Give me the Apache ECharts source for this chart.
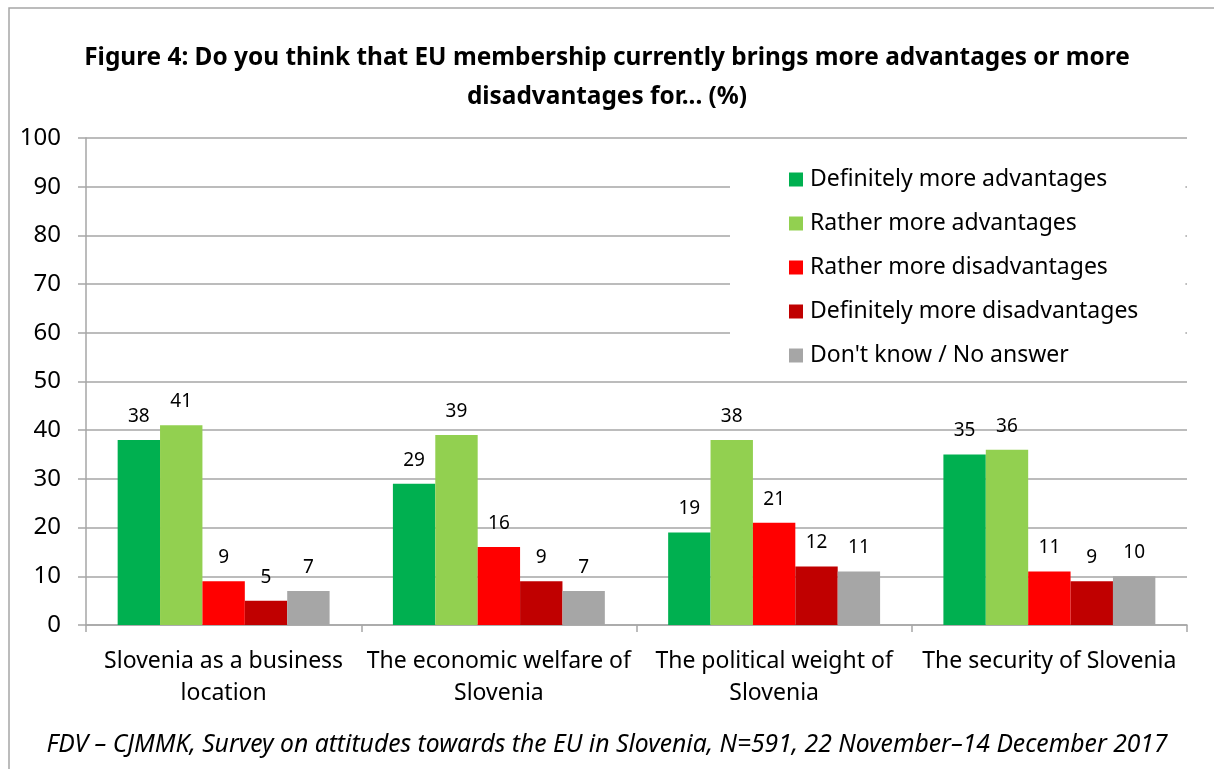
<!DOCTYPE html>
<html>
<head>
<meta charset="utf-8">
<title>EU membership: advantages or disadvantages</title>
<script src="https://cdn.jsdelivr.net/npm/echarts@6/dist/echarts.min.js"></script>
<style>
  html, body { margin: 0; padding: 0; background: #fff; }
  #chart { width: 1214px; height: 769px; }
</style>
</head>
<body>
<div id="chart"></div>
<script>
// Survey answers, percent of respondents
const categories = [
  'Slovenia as a business\nlocation',
  'The economic welfare of\nSlovenia',
  'The political weight of\nSlovenia',
  'The security of Slovenia'
];
const seriesNames = [
  'Definitely more advantages',
  'Rather more advantages',
  'Rather more disadvantages',
  'Definitely more disadvantages',
  "Don't know / No answer"
];
const definitelyAdv = [38, 29, 19, 35];
const ratherAdv = [41, 39, 38, 36];
const ratherDisadv = [9, 16, 21, 11];
const definitelyDisadv = [5, 9, 12, 9];
const dontKnow = [7, 7, 11, 10];
const yTicks = [0, 10, 20, 30, 40, 50, 60, 70, 80, 90, 100];

const values = [definitelyAdv, ratherAdv, ratherDisadv, definitelyDisadv, dontKnow];
const colors = ['#00B050', '#92D050', '#FF0000', '#C00000', '#A6A6A6'];
const FONT = '"Noto Sans", "Open Sans", sans-serif';
const GRID_GREY = '#A6A6A6';

const titleStyle = {
  fontFamily: FONT,
  fontWeight: 'bold',
  fontSize: 24.4,
  color: '#000'
};

const chart = echarts.init(document.getElementById('chart'), null, { renderer: 'canvas' });

chart.setOption({
  backgroundColor: '#fff',
  animation: false,
  textStyle: { fontFamily: FONT, color: '#000' },
  title: [
    {
      text: 'Figure 4: Do you think that EU membership currently brings more advantages or more',
      left: 'center',
      top: 46,
      padding: 0,
      textStyle: titleStyle
    },
    {
      text: 'disadvantages for... (%)',
      left: 'center',
      top: 85,
      padding: 0,
      textStyle: titleStyle
    }
  ],
  legend: {
    orient: 'vertical',
    left: 730,
    top: 145,
    data: seriesNames,
    backgroundColor: '#fff',
    padding: [23, 47, 10, 59],
    itemWidth: 14,
    itemHeight: 14,
    itemGap: 21,
    icon: 'rect',
    textStyle: { fontFamily: FONT, fontSize: 23, color: '#000', padding: [0, 0, 0, 2] }
  },
  grid: { left: 86, right: 27, top: 138, bottom: 144 },
  xAxis: {
    type: 'category',
    data: categories,
    axisLine: { lineStyle: { color: GRID_GREY, width: 1.5 } },
    axisTick: { show: true, length: 7, lineStyle: { color: GRID_GREY, width: 1.5 } },
    axisLabel: {
      fontFamily: FONT,
      fontSize: 23,
      lineHeight: 32,
      color: '#000',
      margin: 20,
      interval: 0
    }
  },
  yAxis: {
    type: 'value',
    min: 0,
    max: 100,
    interval: 10,
    axisLine: { show: true, lineStyle: { color: GRID_GREY, width: 1.5 } },
    axisTick: { show: true, length: 8, lineStyle: { color: GRID_GREY, width: 1.5 } },
    splitLine: { lineStyle: { color: GRID_GREY, width: 1.5 } },
    axisLabel: {
      fontFamily: FONT,
      fontSize: 24,
      color: '#000',
      margin: 25,
      formatter: (v) => (yTicks.includes(v) ? String(v) : '')
    }
  },
  series: seriesNames.map((name, i) => ({
    name,
    type: 'bar',
    data: values[i],
    barGap: '0%',
    barCategoryGap: '23%',
    itemStyle: { color: colors[i] },
    label: {
      show: true,
      position: 'top',
      distance: 14,
      fontFamily: FONT,
      fontSize: 19,
      color: '#000'
    }
  })),
  graphic: [
    {
      type: 'rect',
      shape: { x: 9, y: 8, width: 1230, height: 790 },
      style: { fill: 'none', stroke: GRID_GREY, lineWidth: 1.5 },
      silent: true,
      z: -1
    },
    {
      type: 'text',
      left: 'center',
      top: 732,
      style: {
        text: 'FDV – CJMMK, Survey on attitudes towards the EU in Slovenia, N=591, 22 November–14 December 2017',
        fontFamily: FONT,
        fontStyle: 'italic',
        fontSize: 24.7,
        fill: '#000'
      }
    }
  ]
});
</script>
</body>
</html>
